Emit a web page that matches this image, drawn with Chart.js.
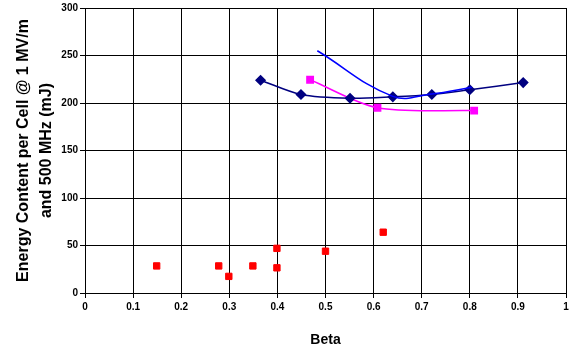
<!DOCTYPE html>
<html>
<head>
<meta charset="utf-8">
<script src="https://cdn.jsdelivr.net/npm/chart.js@4"></script>
<style>
  html, body { margin: 0; padding: 0; background: #fff; }
  #wrap { width: 572px; height: 349px; position: relative; }
</style>
</head>
<body>
<div id="wrap"><canvas id="myChart" width="572" height="349"></canvas></div>
<script>
// navy diamonds
const navyBeta = [0.365, 0.449, 0.551, 0.640, 0.721, 0.800, 0.911];
const navyEnergy = [224, 209, 205, 206.5, 209, 214, 221.5];
// blue smooth curve
const blueBeta = [0.483, 0.640, 0.721, 0.804];
const blueEnergy = [255, 207, 209.5, 216.5];
// magenta squares
const pinkBeta = [0.468, 0.608, 0.809];
const pinkEnergy = [224.5, 195, 192];
// red squares
const redBeta = [0.149, 0.278, 0.299, 0.349, 0.399, 0.399, 0.500, 0.620];
const redEnergy = [28.5, 28.5, 17.5, 28.5, 47, 26.5, 44, 64];

const xTicks = [0, 0.1, 0.2, 0.3, 0.4, 0.5, 0.6, 0.7, 0.8, 0.9, 1];
const yTicks = [0, 50, 100, 150, 200, 250, 300];

function pts(xs, ys) {
    return xs.map((x, i) => ({ x: x, y: ys[i] }));
}

const tickFont = { family: 'Liberation Sans, Arial, sans-serif', size: 10, weight: 'bold' };
const titleFont = { family: 'Liberation Sans, Arial, sans-serif', size: 14, weight: 'bold' };

const ctx = document.getElementById('myChart').getContext('2d');
new Chart(ctx, {
    type: 'scatter',
    data: {
        datasets: [
            {
                data: pts(blueBeta, blueEnergy),
                showLine: true,
                borderColor: '#0000FF',
                backgroundColor: '#0000FF',
                borderWidth: 1.5,
                tension: 0.4,
                pointRadius: 0
            },
            {
                data: pts(navyBeta, navyEnergy),
                showLine: true,
                borderColor: '#000080',
                backgroundColor: '#000080',
                borderWidth: 1.5,
                tension: 0.3,
                pointStyle: 'rectRot',
                pointRadius: 4.5
            },
            {
                data: pts(pinkBeta, pinkEnergy),
                showLine: true,
                borderColor: '#FF00FF',
                backgroundColor: '#FF00FF',
                borderWidth: 1.5,
                tension: 0.3,
                pointStyle: 'rect',
                pointRadius: 4.5
            },
            {
                data: pts(redBeta, redEnergy),
                showLine: false,
                borderColor: '#FF0000',
                backgroundColor: '#FF0000',
                pointStyle: 'rect',
                pointRadius: 4.5
            }
        ]
    },
    options: {
        responsive: false,
        animation: false,
        layout: { padding: { top: 4, right: 6, left: 0, bottom: 0 } },
        plugins: {
            legend: { display: false },
            tooltip: { enabled: false }
        },
        scales: {
            x: {
                type: 'linear',
                min: 0,
                max: 1,
                afterFit: (scale) => { scale.height = 56; },
                afterBuildTicks: (scale) => { scale.ticks = xTicks.map(v => ({ value: v })); },
                grid: { color: '#000', lineWidth: 1, tickLength: 5, drawTicks: true },
                border: { color: '#000', width: 1 },
                ticks: {
                    color: '#000',
                    font: tickFont,
                    padding: 3,
                    maxRotation: 0,
                    callback: (v) => String(v)
                },
                title: {
                    display: true,
                    text: 'Beta',
                    color: '#000',
                    font: titleFont,
                    padding: { top: 7, bottom: 0 }
                }
            },
            y: {
                type: 'linear',
                min: 0,
                max: 300,
                afterFit: (scale) => { scale.width = 85; },
                afterBuildTicks: (scale) => { scale.ticks = yTicks.map(v => ({ value: v })); },
                grid: { color: '#000', lineWidth: 1, tickLength: 5, drawTicks: true },
                border: { color: '#000', width: 1 },
                ticks: {
                    color: '#000',
                    font: tickFont,
                    padding: 2
                },
                title: {
                    display: true,
                    text: ['Energy Content per Cell @ 1 MV/m', 'and 500 MHz (mJ)'],
                    color: '#000',
                    font: { family: 'Liberation Sans, Arial, sans-serif', size: 16, weight: 'bold', lineHeight: 1.45 },
                    padding: { top: 12, bottom: 4 }
                }
            }
        }
    }
});
</script>
</body>
</html>
